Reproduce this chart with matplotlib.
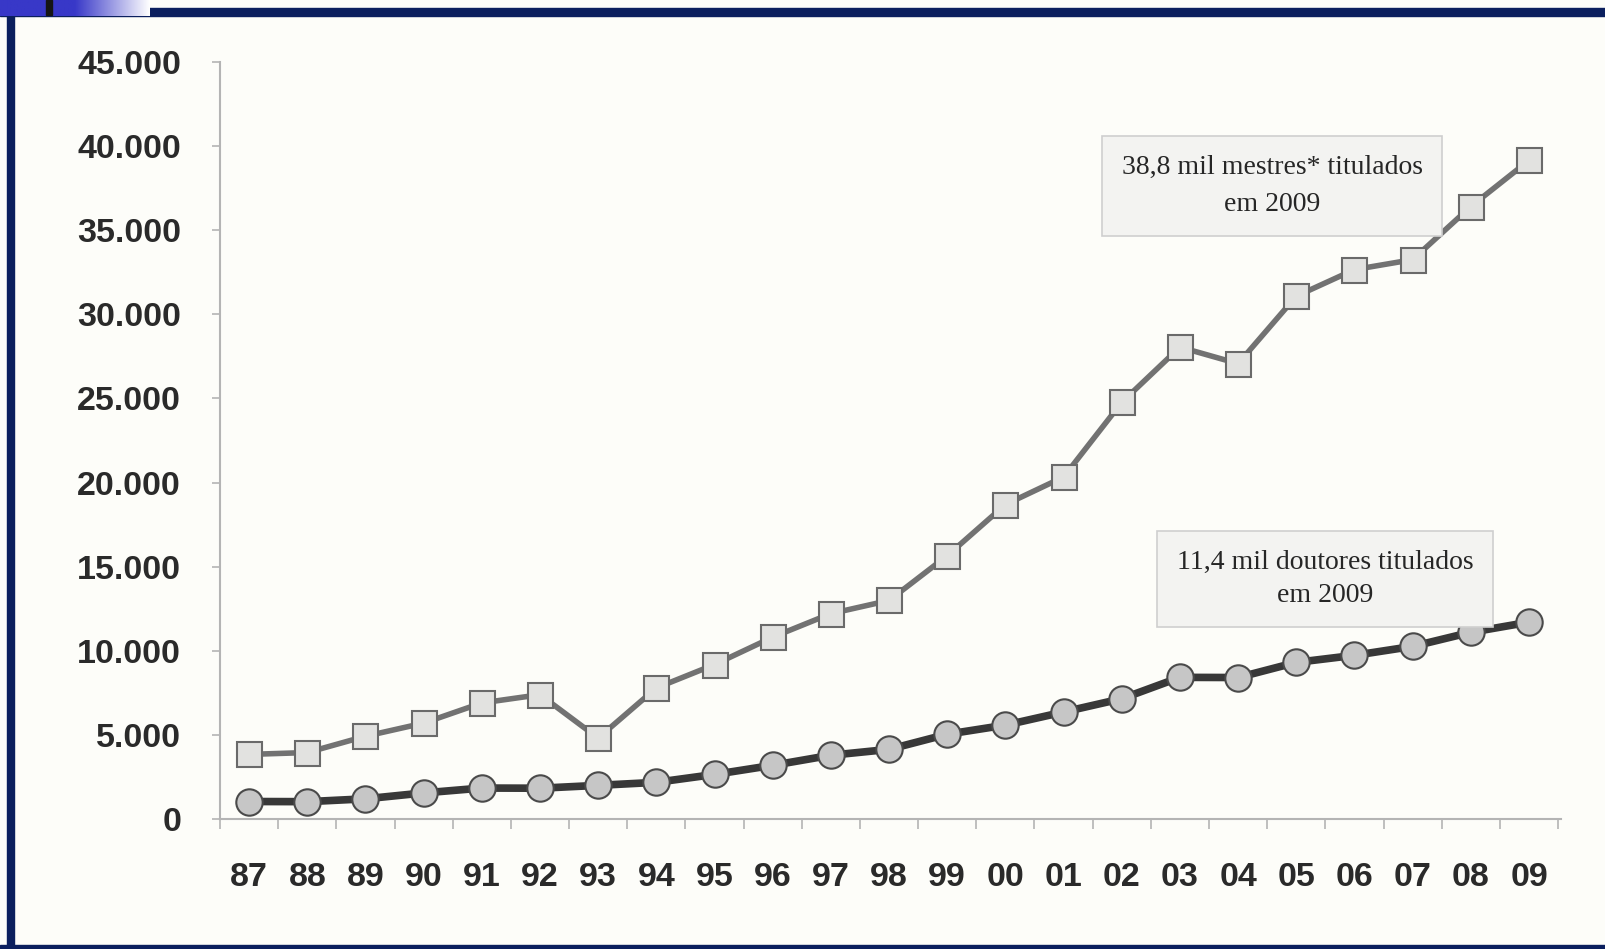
import numpy as np
import matplotlib
matplotlib.use("Agg")
import matplotlib.pyplot as plt
from matplotlib.patches import Rectangle

# dados (titulados por ano)
anos = ["87", "88", "89", "90", "91", "92", "93", "94", "95", "96", "97", "98",
        "99", "00", "01", "02", "03", "04", "05", "06", "07", "08", "09"]
mestres = [3840, 3950, 4920, 5700, 6900, 7390, 4810, 7790, 9180, 10810, 12210, 12990,
           15650, 18690, 20330, 24770, 28050, 27070, 31080, 32660, 33250, 36410, 39150]
doutores = [1040, 1030, 1200, 1550, 1840, 1830, 2000, 2180, 2650, 3190, 3790, 4140,
            5040, 5580, 6360, 7150, 8420, 8410, 9310, 9730, 10260, 11100, 11700]
yticks = [0, 5000, 10000, 15000, 20000, 25000, 30000, 35000, 40000, 45000]
ytick_labels = ["0", "5.000", "10.000", "15.000", "20.000", "25.000",
                "30.000", "35.000", "40.000", "45.000"]
txt_mestres = "38,8 mil mestres* titulados\nem 2009"
txt_doutores = "11,4 mil doutores titulados\nem 2009"

W, H = 1605, 949
fig = plt.figure(figsize=(W / 100, H / 100), dpi=100)
fig.patch.set_facecolor("#fdfdf9")

# moldura azul do slide
navy = "#0b1f5e"
fig.add_artist(Rectangle((0, 1 - 16 / H), 1, 8 / H, transform=fig.transFigure,
                         color=navy, zorder=5))
fig.add_artist(Rectangle((7 / W, 0), 7 / W, 1 - 8 / H, transform=fig.transFigure,
                         color=navy, zorder=5))
fig.add_artist(Rectangle((0, 0), 1, 4 / H, transform=fig.transFigure,
                         color=navy, zorder=5))
# degradê no canto
grad = np.linspace(0, 1, 256).reshape(1, -1)
gax = fig.add_axes([0, 1 - 16 / H, 150 / W, 16 / H], zorder=6)
gax.imshow(grad, aspect="auto", cmap=matplotlib.colors.LinearSegmentedColormap.from_list(
    "g", ["#3838c8", "#3838c8", "#ffffff"]))
gax.axis("off")
fig.add_artist(Rectangle((46 / W, 1 - 15 / H), 6 / W, 15 / H, transform=fig.transFigure,
                         color="#151515", zorder=7))

ax = fig.add_axes([220 / W, (H - 819) / H, (1561 - 220) / W, (819 - 62) / H])
ax.set_facecolor("none")
x = np.arange(len(anos))

ax.plot(x, mestres, color="#727272", lw=4, marker="s", markersize=18,
        markerfacecolor="#e2e2e0", markeredgecolor="#6a6a6a", markeredgewidth=1.5, zorder=3)
ax.plot(x, doutores, color="#383838", lw=5.5, marker="o", markersize=19,
        markerfacecolor="#c6c6c6", markeredgecolor="#4a4a4a", markeredgewidth=1.5, zorder=3)

ax.set_xlim(-0.5, 22.55)
ax.set_ylim(0, 45000)

for s in ["top", "right"]:
    ax.spines[s].set_visible(False)
for s in ["left", "bottom"]:
    ax.spines[s].set_color("#b4b4b4")
    ax.spines[s].set_linewidth(1.5)

fonte = ["Liberation Sans Narrow", "Liberation Sans", "DejaVu Sans"]
ax.set_yticks(yticks)
ax.set_yticklabels(ytick_labels, family=fonte, fontweight="bold", fontsize=24.5, color="#2a2a2a")
ax.set_xticks(x)
ax.set_xticklabels(anos, family=fonte, fontweight="bold", fontsize=24.5, color="#2a2a2a")
ax.set_xticks(np.arange(len(anos) + 1) - 0.5, minor=True)
ax.tick_params(axis="y", length=6, width=1.2, color="#b4b4b4", pad=22)
ax.tick_params(axis="x", which="major", length=0, pad=31)
ax.tick_params(axis="x", which="minor", length=7, width=1.2, color="#b4b4b4")

caixa = dict(boxstyle="square,pad=0.7", facecolor="#f3f3f1", edgecolor="#cfcfcf", lw=1.2)
fig.text(1272 / W, 1 - 186 / H, txt_mestres, family="Liberation Serif", fontsize=20,
         ha="center", va="center", color="#262626", linespacing=1.6, bbox=caixa)
fig.text(1325 / W, 1 - 579 / H, txt_doutores, family="Liberation Serif", fontsize=20,
         ha="center", va="center", color="#262626", linespacing=1.4, bbox=caixa)

fig.savefig("out.png", dpi=100, facecolor=fig.get_facecolor())
